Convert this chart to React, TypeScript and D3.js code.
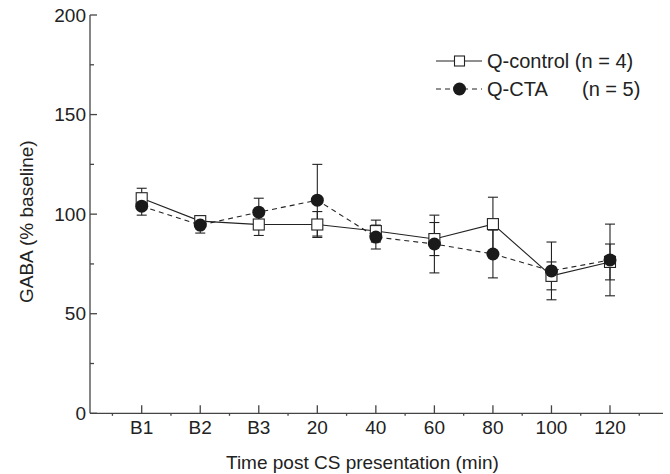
import { useEffect, useRef } from "react";
import * as d3 from "d3";

const categories = ["B1", "B2", "B3", "20", "40", "60", "80", "100", "120"];
const controlMean = [108, 96.5, 94.8, 94.8, 91.5, 87.5, 95, 69, 76];
const controlErr = [5, 2.5, 5.5, 6.5, 5.5, 8.3, 13.5, 7, 9];
const ctaMean = [104, 94.5, 101, 107, 88.5, 85, 80, 71.5, 77];
const ctaErr = [4.5, 4, 7, 18, 6, 14.5, 12, 14.5, 18];
const yTicks = [0, 50, 100, 150, 200];
const yMinor = [25, 75, 125, 175];

const FONT = "'Liberation Sans', Arial, Helvetica, sans-serif";

export default function App() {
  const svgRef = useRef<SVGSVGElement>(null);

  useEffect(() => {
    const svg = d3.select(svgRef.current);
    svg.selectAll("*").remove();
    const width = 670;
    const height = 474;
    svg.attr("viewBox", `0 0 ${width} ${height}`);

    // category index -> pixel; axis frame runs a bit past the first/last category
    const x = d3.scaleLinear().domain([0, 8]).range([141.7, 610]);
    const y = d3.scaleLinear().domain([0, 200]).range([413.3, 15]);
    const x0 = 90;
    const x1 = 663;
    const ink = "#222";
    const axisColor = "#444";

    const control = categories.map((c, i) => ({ i, m: controlMean[i], e: controlErr[i] }));
    const cta = categories.map((c, i) => ({ i, m: ctaMean[i], e: ctaErr[i] }));

    // axes
    const ax = svg.append("g").attr("stroke", axisColor).attr("stroke-width", 1.3);
    ax.append("line").attr("x1", x0).attr("x2", x1).attr("y1", y(0)).attr("y2", y(0));
    ax.append("line").attr("x1", x0).attr("x2", x0).attr("y1", y(0)).attr("y2", y(200));

    yTicks.forEach((t) => {
      ax.append("line").attr("x1", x0).attr("x2", x0 + 7).attr("y1", y(t)).attr("y2", y(t));
    });
    yMinor.forEach((t) => {
      ax.append("line").attr("x1", x0).attr("x2", x0 + 4).attr("y1", y(t)).attr("y2", y(t));
    });
    categories.forEach((c, i) => {
      ax.append("line").attr("x1", x(i)).attr("x2", x(i)).attr("y1", y(0)).attr("y2", y(0) - 8);
    });
    d3.range(-0.5, 9, 1).forEach((v) => {
      ax.append("line").attr("x1", x(v)).attr("x2", x(v)).attr("y1", y(0)).attr("y2", y(0) + 2.5);
    });

    const labels = svg.append("g").attr("font-family", FONT).attr("font-size", 19).attr("fill", "#222");
    yTicks.forEach((t) => {
      labels
        .append("text")
        .attr("x", 86)
        .attr("y", y(t))
        .attr("dy", "0.35em")
        .attr("text-anchor", "end")
        .text(t);
    });
    categories.forEach((c, i) => {
      labels
        .append("text")
        .attr("x", x(i))
        .attr("y", y(0) + 20.5)
        .attr("text-anchor", "middle")
        .text(c);
    });
    labels
      .append("text")
      .attr("x", 226)
      .attr("y", 469)
      .text("Time post CS presentation (min)");
    labels
      .append("text")
      .attr("transform", `translate(33,221.7) rotate(-90)`)
      .attr("text-anchor", "middle")
      .text("GABA (% baseline)");

    const line = d3
      .line<{ i: number; m: number }>()
      .x((d) => x(d.i))
      .y((d) => y(d.m));

    svg.append("path").datum(control).attr("fill", "none").attr("stroke", ink).attr("stroke-width", 1.1).attr("d", line);
    svg
      .append("path")
      .datum(cta)
      .attr("fill", "none")
      .attr("stroke", ink)
      .attr("stroke-width", 1.1)
      .attr("stroke-dasharray", "5,4")
      .attr("d", line);

    // error bars
    const errs = svg.append("g").attr("stroke", ink).attr("stroke-width", 1.1);
    [...control, ...cta].forEach((d) => {
      const cx = x(d.i);
      errs.append("line").attr("x1", cx).attr("x2", cx).attr("y1", y(d.m - d.e)).attr("y2", y(d.m + d.e));
      [d.m - d.e, d.m + d.e].forEach((v) => {
        errs.append("line").attr("x1", cx - 5).attr("x2", cx + 5).attr("y1", y(v)).attr("y2", y(v));
      });
    });

    svg
      .append("g")
      .selectAll("rect")
      .data(control)
      .enter()
      .append("rect")
      .attr("x", (d) => x(d.i) - 5.5)
      .attr("y", (d) => y(d.m) - 5.5)
      .attr("width", 11)
      .attr("height", 11)
      .attr("fill", "white")
      .attr("stroke", ink)
      .attr("stroke-width", 1.1);

    svg
      .append("g")
      .selectAll("circle")
      .data(cta)
      .enter()
      .append("circle")
      .attr("cx", (d) => x(d.i))
      .attr("cy", (d) => y(d.m))
      .attr("r", 6.5)
      .attr("fill", "#1a1a1a");

    // legend
    const lg = svg.append("g");
    lg.append("line").attr("x1", 436).attr("x2", 482).attr("y1", 61).attr("y2", 61).attr("stroke", ink).attr("stroke-width", 1.1);
    lg.append("rect").attr("x", 454.5).attr("y", 56).attr("width", 10).attr("height", 10).attr("fill", "white").attr("stroke", ink).attr("stroke-width", 1.1);
    lg.append("line")
      .attr("x1", 436)
      .attr("x2", 482)
      .attr("y1", 89)
      .attr("y2", 89)
      .attr("stroke", ink)
      .attr("stroke-width", 1.1)
      .attr("stroke-dasharray", "5,4");
    lg.append("circle").attr("cx", 459.5).attr("cy", 89).attr("r", 6.5).attr("fill", "#1a1a1a");
    const lt = lg.append("g").attr("font-family", FONT).attr("font-size", 20).attr("fill", "#222");
    lt.append("text").attr("x", 487).attr("y", 61).attr("dy", "0.35em").text("Q-control (n = 4)");
    lt.append("text").attr("x", 487).attr("y", 89).attr("dy", "0.35em").text("Q-CTA");
    lt.append("text").attr("x", 582).attr("y", 89).attr("dy", "0.35em").text("(n = 5)");
  }, []);

  return (
    <svg
      ref={svgRef}
      width={670}
      height={474}
      style={{ position: "absolute", left: 0, top: 0, background: "white" }}
    />
  );
}
